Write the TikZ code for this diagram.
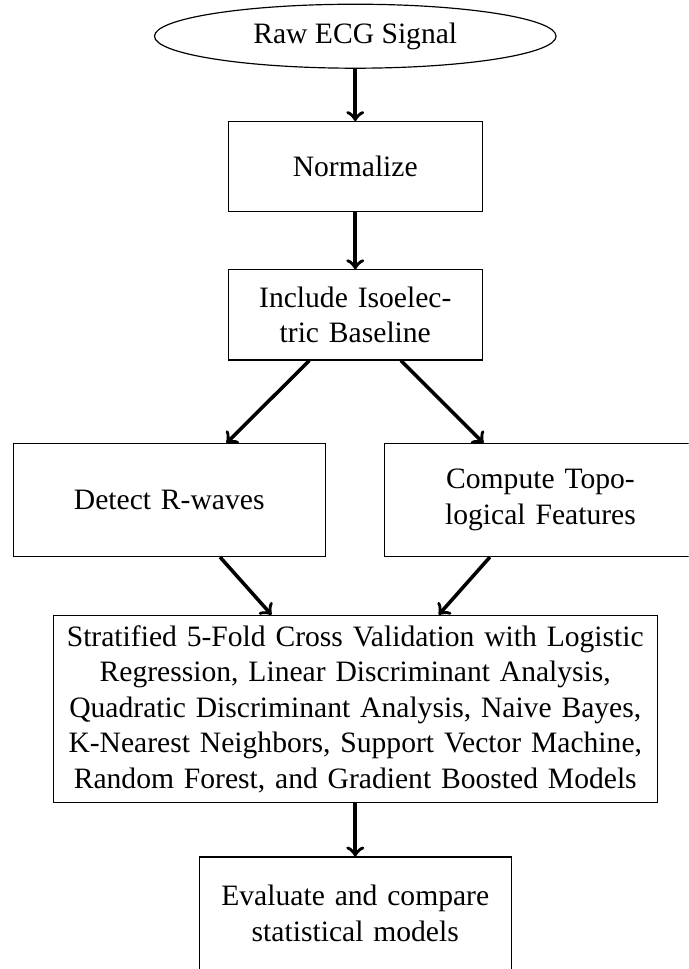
\documentclass[tikz,border=0pt]{standalone}
\usepackage{fontspec}
\setmainfont{Liberation Serif}
\usetikzlibrary{shapes.geometric}

\begin{document}
\begin{tikzpicture}[x=1cm,y=1cm,
  start/.style={draw,ellipse,inner sep=0pt,minimum width=4.77cm,minimum height=0.76cm},
  stepbox/.style={draw,align=center,text width=2.78cm,minimum height=1.07cm},
  widebox/.style={draw,align=center,text width=3.47cm,minimum height=1.34cm},
  bigbox/.style={draw,align=center,text width=6.94cm},
  flow/.style={->,line width=1.2pt}]
  \useasboundingbox (0,-11.51) rectangle (8.18,0);
  \clip (0,-11.51) rectangle (8.18,0);
  \node[start] (raw) at (4.22,-0.43) {Raw ECG Signal};
  \node[stepbox] (norm) at (4.22,-1.98) {Normalize};
  \node[stepbox] (iso) at (4.22,-3.74) {Include Isoelec-\\tric Baseline};
  \node[widebox] (rwave) at (2.01,-5.94) {Detect R-waves};
  \node[widebox] (topo) at (6.42,-5.94) {Compute Topo-\\logical Features};
  \node[bigbox] (models) at (4.22,-8.42) {Stratified 5-Fold Cross Validation with Logistic\\
    Regression, Linear Discriminant Analysis,\\
    Quadratic Discriminant Analysis, Naive Bayes,\\
    K-Nearest Neighbors, Support Vector Machine,\\
    Random Forest, and Gradient Boosted Models};
  \node[widebox] (eval) at (4.22,-10.85) {Evaluate and compare\\statistical models};
  \foreach \a/\b in {raw/norm,norm/iso,iso/rwave,iso/topo,rwave/models,topo/models,models/eval}
    \draw[flow] (\a) -- (\b);
\end{tikzpicture}
\end{document}
